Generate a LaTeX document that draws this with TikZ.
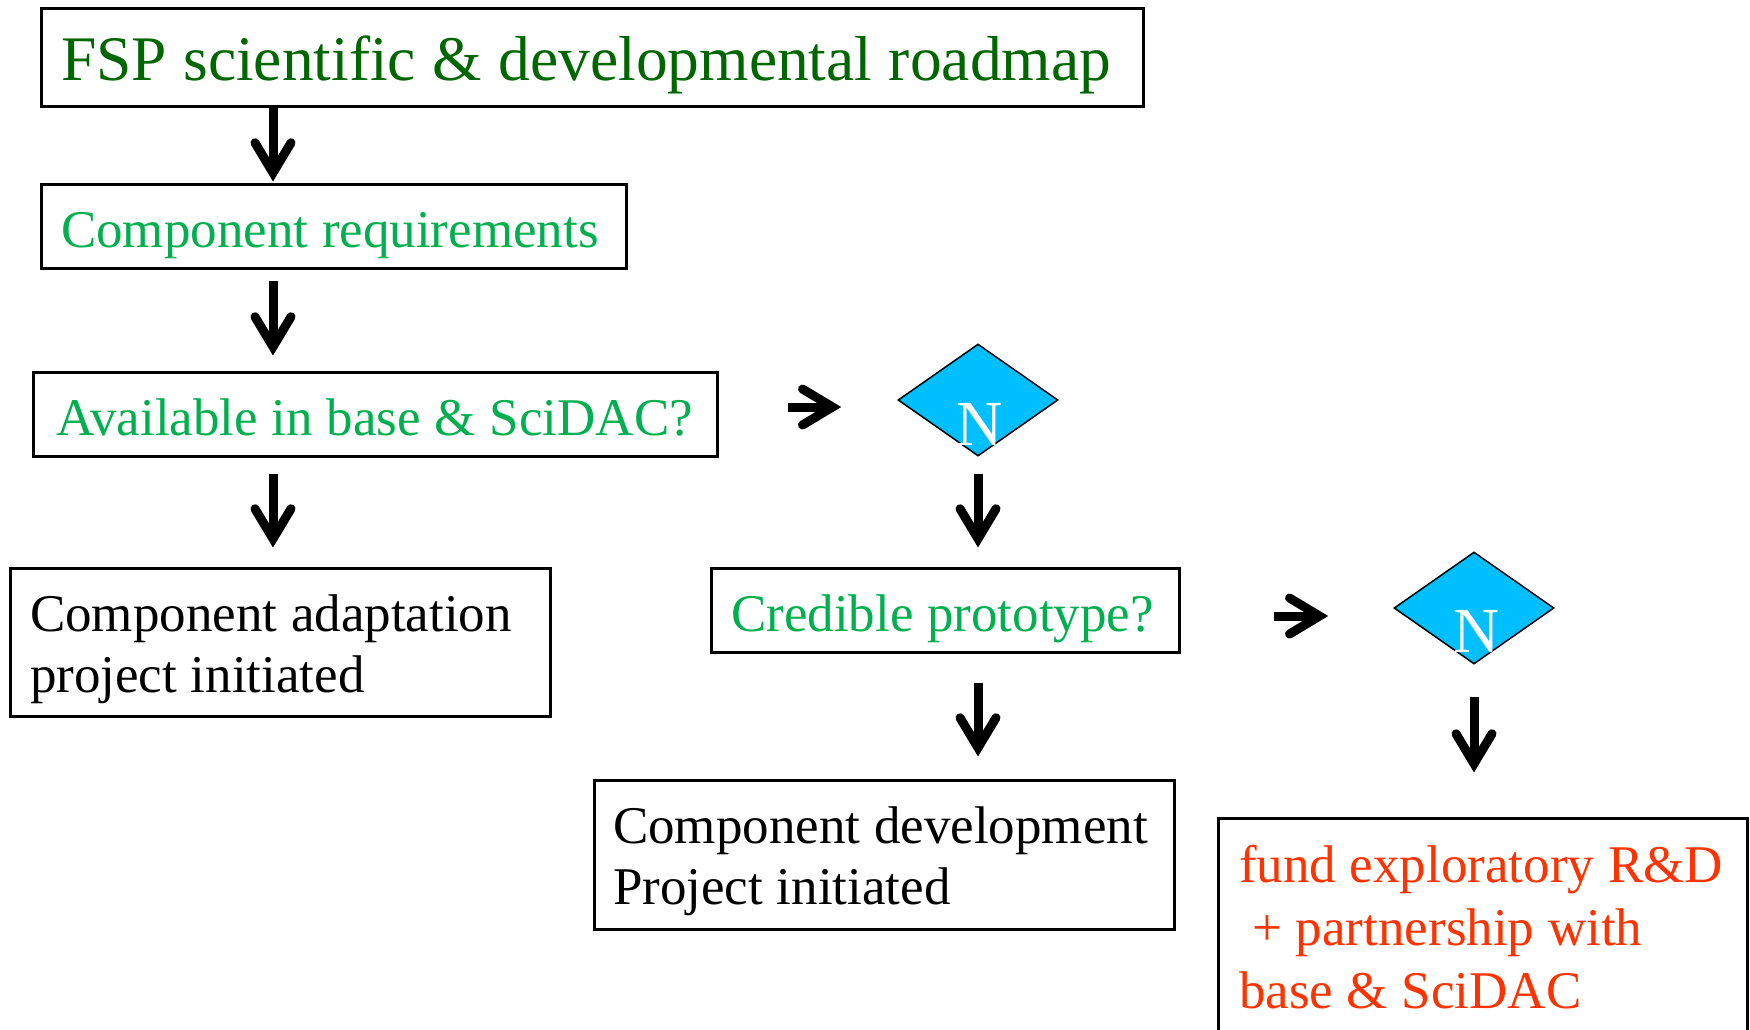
\documentclass[tikz,border=0pt]{standalone}
\usepackage{fontspec}
\setmainfont{Liberation Serif}
\usetikzlibrary{arrows.meta,shapes.geometric}
\definecolor{dkgreen}{HTML}{006600}
\definecolor{qgreen}{HTML}{00B050}
\definecolor{redor}{HTML}{FF3300}
\definecolor{cyanfill}{HTML}{00BFFF}
\newcommand\tightsp{\spaceskip=0.26em\relax}
\begin{document}
\begin{tikzpicture}[x=1pt,y=-1pt,
  box/.style={draw=black, line width=3pt, rectangle, inner ysep=0pt, align=left,
    execute at begin node=\tightsp},
  titletext/.style={font=\fontsize{63.5}{70}\selectfont},
  bodytext/.style={font=\fontsize{53}{61}\selectfont},
  redtext/.style={font=\fontsize{53}{63}\selectfont},
  oneline/.style={text height=43pt, text depth=0pt},
  dia/.style={diamond, draw=black, line width=1.5pt, fill=cyanfill, inner sep=0pt,
    minimum width=160pt, minimum height=112pt},
  ntext/.style={text=white, font=\fontsize{64}{70}\selectfont, inner sep=0pt, anchor=base},
  arr/.style={line width=9pt, -{Straight Barb[length=30pt,width=36pt,line cap=round,line join=miter]}}
]
\clip (0,0) rectangle (1750,1029);
\fill[white] (0,0) rectangle (1750,1029);

\node[box, titletext, text=dkgreen, minimum width=1102pt, minimum height=98pt,
  text width=1062pt, inner xsep=20pt, text height=46pt, text depth=0pt] (b1) at (592,57)
  {\mbox{FSP scientific \& developmental roadmap}};
\node[box, bodytext, oneline, text=qgreen, minimum width=585pt, minimum height=84pt,
  text width=545pt, inner xsep=20pt] (b2) at (333.5,226) {\mbox{Component requirements}};
\node[box, bodytext, oneline, text=qgreen, minimum width=684pt, minimum height=84pt,
  text width=638pt, inner xsep=23pt, text height=42pt] (b3) at (375,414) {\mbox{Available in base \& SciDAC?}};
\node[box, bodytext, text=black, minimum width=540pt, minimum height=148pt,
  text width=500pt, inner xsep=20pt, text height=40pt, text depth=62pt] (b4) at (280,642)
  {\mbox{Component adaptation}\\\mbox{project initiated}};
\node[box, bodytext, oneline, text=qgreen, minimum width=468pt, minimum height=84pt,
  text width=428pt, inner xsep=20pt, text height=42pt] (b5) at (945,610) {\mbox{Credible prototype?}};
\node[box, bodytext, text=black, minimum width=580pt, minimum height=149pt,
  text width=542pt, inner xsep=19pt, text height=40pt, text depth=63pt] (b6) at (884,854.5)
  {\mbox{Component development}\\\mbox{Project initiated}};
\node[box, redtext, text=redor, minimum width=529pt, minimum height=218pt,
  text width=487pt, inner xsep=21pt, text height=40pt, text depth=130pt] (b7) at (1482.5,927)
  {\mbox{fund exploratory R\&D}\\\mbox{\hspace*{0.25em}+ partnership with}\\\mbox{base \& SciDAC}};

\node[dia] (d1) at (978,400) {};
\node[ntext] (n1) at (980,445) {N};
\node[dia] (d2) at (1474,608) {};
\node[ntext] (n2) at (1477,652) {N};

\coordinate (ax) at (273,0);
\coordinate (ay1) at (0,407);
\coordinate (ay2) at (0,616);

\draw[arr, shorten >=1pt] (b1.south -| ax) -- (b2.north -| ax);
\draw[arr, shorten <=11pt, shorten >=15pt] (b2.south -| ax) -- (b3.north -| ax);
\draw[arr, shorten <=16pt, shorten >=19pt] (b3.south -| ax) -- (b4.north -| ax);
\draw[arr, shorten <=69pt, shorten >=56pt] (b3.east |- ay1) -- (d1.west |- ay1);
\draw[arr, shorten <=17pt, shorten >=19pt] (d1.south) -- (b5.north -| d1.south);
\draw[arr, shorten <=29pt, shorten >=22pt] (b5.south -| d1.south) -- (b6.north -| d1.south);
\draw[arr, shorten <=93pt, shorten >=65pt] (b5.east |- ay2) -- (d2.west |- ay2);
\draw[arr, shorten <=32pt, shorten >=44pt] (d2.south) -- (b7.north -| d2.south);
\end{tikzpicture}
\end{document}
